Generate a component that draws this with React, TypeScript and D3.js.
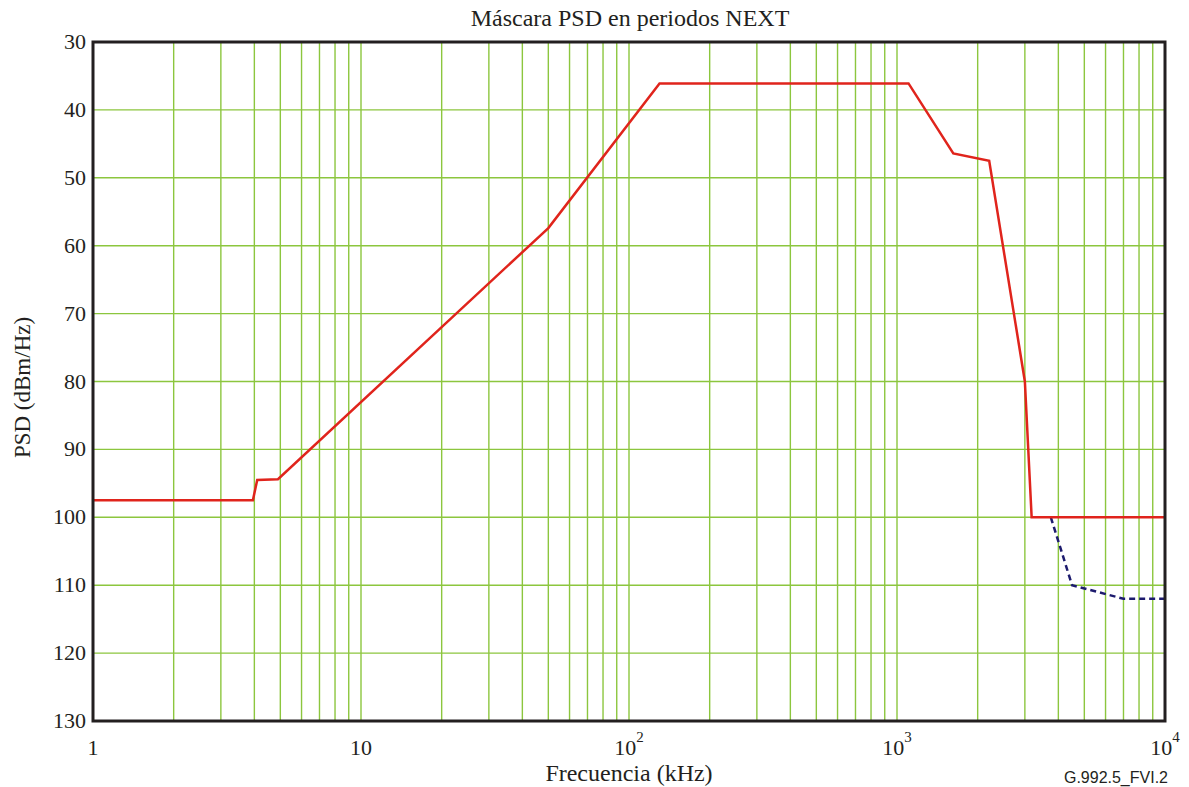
import * as React from "react";
import * as d3 from "d3";

const maskFreq = [1, 3.95, 4.1, 4.9, 50, 130, 1104, 1622, 2208, 3000, 3180, 10000];
const maskPsd = [97.5, 97.5, 94.5, 94.4, 57.4, 36.1, 36.1, 46.4, 47.5, 80, 100, 100];

const altFreq = [3750, 4500, 7000, 10000];
const altPsd = [100, 110, 112, 112];

const yTicks = [30, 40, 50, 60, 70, 80, 90, 100, 110, 120, 130];
const xDecades = [1, 10, 100, 1000, 10000];

const width = 1189;
const height = 787;
const margin = { top: 42, right: 24, bottom: 66, left: 93 };

const gridColor = "#8cc63e";
const frameColor = "#231f20";

export default function App() {
  const x = d3
    .scaleLog()
    .domain([1, 10000])
    .range([margin.left, width - margin.right]);
  const y = d3
    .scaleLinear()
    .domain([30, 130])
    .range([margin.top, height - margin.bottom]);

  const minorX: number[] = [];
  xDecades.slice(0, -1).forEach((d) => {
    for (let k = 2; k <= 10; k++) minorX.push(d * k);
  });

  const line = d3
    .line<[number, number]>()
    .x((d) => x(d[0]))
    .y((d) => y(d[1]));

  const mask = maskFreq.map((f, i) => [f, maskPsd[i]] as [number, number]);
  const alt = altFreq.map((f, i) => [f, altPsd[i]] as [number, number]);

  const x0 = x.range()[0];
  const x1 = x.range()[1];
  const y0 = y.range()[0];
  const y1 = y.range()[1];

  return (
    <svg
      width={width}
      height={height}
      style={{ position: "absolute", left: 0, top: 0, background: "white" }}
      fontFamily="'Liberation Serif', 'Times New Roman', serif"
    >
      <text x={630} y={26} textAnchor="middle" fontSize={24} fill={frameColor}>
        Máscara PSD en periodos NEXT
      </text>

      {minorX.map((f) => (
        <line
          key={"gx" + f}
          x1={x(f)}
          x2={x(f)}
          y1={y0}
          y2={y1}
          stroke={gridColor}
          strokeWidth={1.4}
        />
      ))}
      {yTicks.map((t) => (
        <line
          key={"gy" + t}
          x1={x0}
          x2={x1}
          y1={y(t)}
          y2={y(t)}
          stroke={gridColor}
          strokeWidth={1.4}
        />
      ))}

      <path
        d={line(alt) || ""}
        fill="none"
        stroke="#1d1b6e"
        strokeWidth={2.5}
        strokeDasharray="6,4"
      />
      <path d={line(mask) || ""} fill="none" stroke="#e0241c" strokeWidth={2.5} />

      <rect
        x={x0}
        y={y0}
        width={x1 - x0}
        height={y1 - y0}
        fill="none"
        stroke={frameColor}
        strokeWidth={3}
      />

      {yTicks.map((t) => (
        <text
          key={"ty" + t}
          x={x0 - 7}
          y={y(t) + 7}
          textAnchor="end"
          fontSize={22}
          fill={frameColor}
        >
          {t}
        </text>
      ))}

      {xDecades.map((d, i) => (
        <text
          key={"tx" + d}
          x={x(d)}
          y={y1 + 34}
          textAnchor="middle"
          fontSize={22}
          fill={frameColor}
        >
          {i < 2 ? (
            String(d)
          ) : (
            <>
              10
              <tspan fontSize={15} dy={-13}>
                {i}
              </tspan>
            </>
          )}
        </text>
      ))}

      <text x={629} y={781} textAnchor="middle" fontSize={24} fill={frameColor}>
        Frecuencia (kHz)
      </text>

      <text
        transform={`translate(30, ${(y0 + y1) / 2 + 6}) rotate(-90)`}
        textAnchor="middle"
        fontSize={23}
        fill={frameColor}
      >
        PSD (dBm/Hz)
      </text>

      <text
        x={1168}
        y={783}
        textAnchor="end"
        fontSize={16}
        fontFamily="'Liberation Sans', Arial, sans-serif"
        fill={frameColor}
      >
        G.992.5_FVI.2
      </text>
    </svg>
  );
}
